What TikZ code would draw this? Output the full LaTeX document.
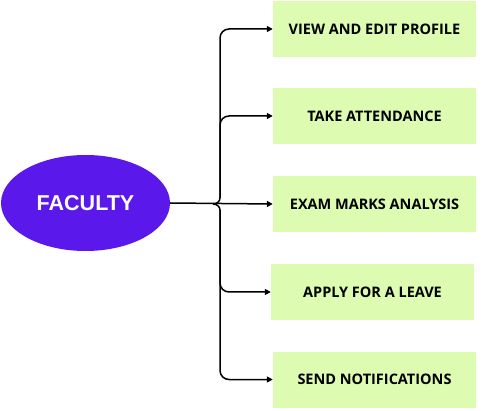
\documentclass[tikz,border=0pt]{standalone}
\usepackage{fontspec}
\setmainfont{Open Sans}
\newfontfamily\titlefont{Liberation Sans}
\usetikzlibrary{arrows.meta,shapes.geometric}
\definecolor{purp}{RGB}{90,24,234}
\definecolor{lgreen}{RGB}{221,251,177}
\begin{document}
\begin{tikzpicture}[x=1pt,y=1pt,
  box/.style={fill=lgreen, minimum width=203pt, minimum height=56pt, inner sep=0pt,
    font=\bfseries\fontsize{14.5}{17}\selectfont, text=black},
  line/.style={line width=1.5pt, black},
  arr/.style={line, -{Triangle[length=6pt,width=6pt]}, rounded corners=9pt}]
\useasboundingbox (0,0) rectangle (482,410);
\node[ellipse, fill=purp, minimum width=169pt, minimum height=96pt, inner sep=0pt] (fac) at (85.5,207)
  {\titlefont\bfseries\fontsize{21.5}{26}\selectfont\textcolor{white}{FACULTY}};
\node[box] (b1) at (374.5,381) {VIEW AND EDIT PROFILE};
\node[box] (b2) at (374.5,294) {TAKE ATTENDANCE};
\node[box] (b3) at (374.5,206) {EXAM MARKS ANALYSIS};
\node[box] (b4) at (372.5,118) {APPLY FOR A LEAVE};
\node[box] (b5) at (374.5,30.5) {SEND NOTIFICATIONS};
\coordinate (j) at (213,206);
\coordinate (tu) at (220,212);
\coordinate (td) at (220,200);
\draw[line, -{Triangle[length=6pt,width=6pt]}] (fac.east) -- (b3.west);
\draw[line] (j) to[out=0,in=-90] (tu);
\draw[line] (j) to[out=0,in=90] (td);
\draw[arr] (tu) |- (b1.west);
\draw[arr] (tu) |- (b2.west);
\draw[arr] (td) |- (b4.west);
\draw[arr] (td) |- (b5.west);
\end{tikzpicture}
\end{document}
